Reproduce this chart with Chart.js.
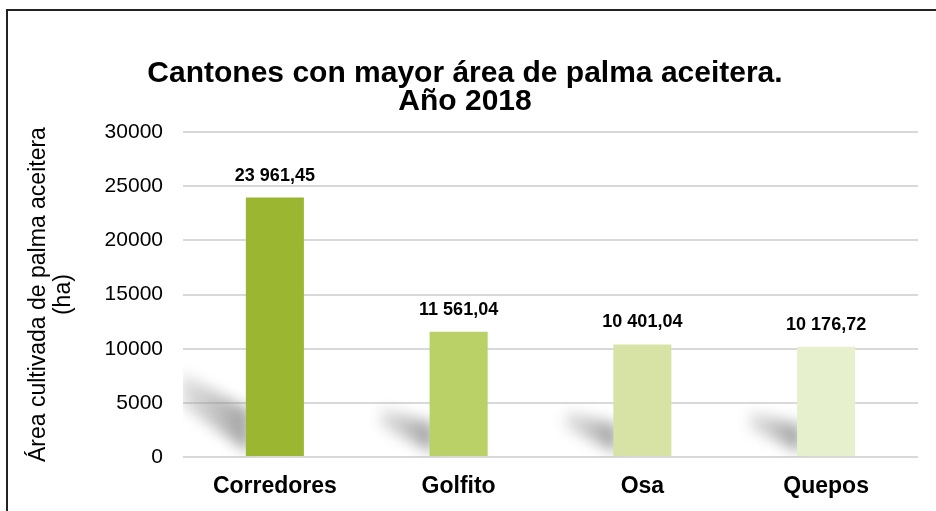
<!DOCTYPE html>
<html>
<head>
<meta charset="utf-8">
<script src="https://cdn.jsdelivr.net/npm/chart.js@4"></script>
<style>
html,body{margin:0;padding:0;background:#fff;}
#wrap{width:936px;height:511px;position:relative;}
</style>
</head>
<body>
<div id="wrap"><canvas id="c" width="936" height="511"></canvas></div>
<script>
const categories = ['Corredores', 'Golfito', 'Osa', 'Quepos'];
const values = [23961.45, 11561.04, 10401.04, 10176.72];
const barColors = ['#9BB732', '#B9D166', '#D7E3A5', '#E7F0CD'];
const titleLines = ['Cantones con mayor área de palma aceitera.', 'Año 2018'];
const yTitleLines = ['Área cultivada de palma aceitera', '(ha)'];
const yMin = 0, yMax = 30000, yStep = 5000;

const FONT = '"Liberation Sans", Arial, sans-serif';

function fmtEs(v) {
  const parts = v.toFixed(2).split('.');
  const intPart = parts[0].replace(/\B(?=(\d{3})+(?!\d))/g, ' ');
  return intPart + ',' + parts[1];
}

const borderPlugin = {
  id: 'outerBorder',
  afterDraw(chart) {
    const ctx = chart.ctx;
    ctx.save();
    ctx.strokeStyle = '#222';
    ctx.lineWidth = 2;
    ctx.strokeRect(7, 10, 1200, 1200);
    ctx.restore();
  }
};

const shadowPlugin = {
  id: 'barShadows',
  beforeDatasetsDraw(chart) {
    const ctx = chart.ctx;
    const area = chart.chartArea;
    const meta = chart.getDatasetMeta(0);
    ctx.save();
    ctx.beginPath();
    ctx.rect(area.left, area.top, area.right - area.left, area.bottom - area.top);
    ctx.clip();
    ctx.filter = 'blur(7px)';
    meta.data.forEach(bar => {
      const x0 = bar.x - bar.width / 2;
      const base = bar.base;
      const h = base - bar.y;
      const L = 0.12 * h + 34;
      const rise = 0.16 * h;
      const t = 0.1 * h + 20;
      const g = ctx.createLinearGradient(x0 - L, 0, x0, 0);
      g.addColorStop(0, 'rgba(170,170,170,0.35)');
      g.addColorStop(1, 'rgba(120,120,120,0.7)');
      ctx.fillStyle = g;
      ctx.beginPath();
      ctx.moveTo(x0 + 4, base - 3);
      ctx.lineTo(x0 + 4, base - t);
      ctx.lineTo(x0 - L, base - t - rise + 4);
      ctx.lineTo(x0 - L, base - rise - 10);
      ctx.closePath();
      ctx.fill();
    });
    ctx.restore();
  }
};

const valueLabelPlugin = {
  id: 'valueLabels',
  afterDatasetsDraw(chart) {
    const ctx = chart.ctx;
    const meta = chart.getDatasetMeta(0);
    ctx.save();
    ctx.font = 'bold 18px ' + FONT;
    ctx.fillStyle = '#000';
    ctx.textAlign = 'center';
    ctx.textBaseline = 'alphabetic';
    meta.data.forEach((bar, i) => {
      ctx.fillText(fmtEs(values[i]), bar.x, bar.y - 17);
    });
    ctx.restore();
  }
};

new Chart(document.getElementById('c'), {
  type: 'bar',
  data: {
    labels: categories,
    datasets: [{
      data: values,
      backgroundColor: barColors,
      borderWidth: 0,
      categoryPercentage: 1,
      barPercentage: 0.316
    }]
  },
  options: {
    responsive: false,
    animation: false,
    devicePixelRatio: 1,
    layout: { padding: { left: 12, right: 18, top: 0, bottom: 0 } },
    plugins: {
      legend: { display: false },
      tooltip: { enabled: false },
      title: {
        display: true,
        text: titleLines,
        color: '#000',
        font: { family: FONT, size: 30, weight: 'bold', lineHeight: 0.92 },
        padding: { top: 60, bottom: 17 }
      }
    },
    scales: {
      x: {
        grid: { display: false, drawTicks: false },
        border: { display: false },
        ticks: {
          color: '#000',
          padding: 16,
          font: { family: FONT, size: 23, weight: 'bold' }
        },
        afterFit(scale) { scale.height = 54; }
      },
      y: {
        min: yMin,
        max: yMax,
        grid: { color: '#d9d9d9', lineWidth: 2, drawTicks: false },
        border: { display: false },
        ticks: {
          stepSize: yStep,
          color: '#000',
          padding: 20,
          font: { family: FONT, size: 21 },
          callback: v => String(v)
        },
        title: {
          display: true,
          text: yTitleLines,
          color: '#000',
          font: { family: FONT, size: 23, lineHeight: 1.1 },
          padding: { top: 14, bottom: 0 }
        },
        afterFit(scale) { scale.width = 171; }
      }
    }
  },
  plugins: [shadowPlugin, valueLabelPlugin, borderPlugin]
});
</script>
</body>
</html>
